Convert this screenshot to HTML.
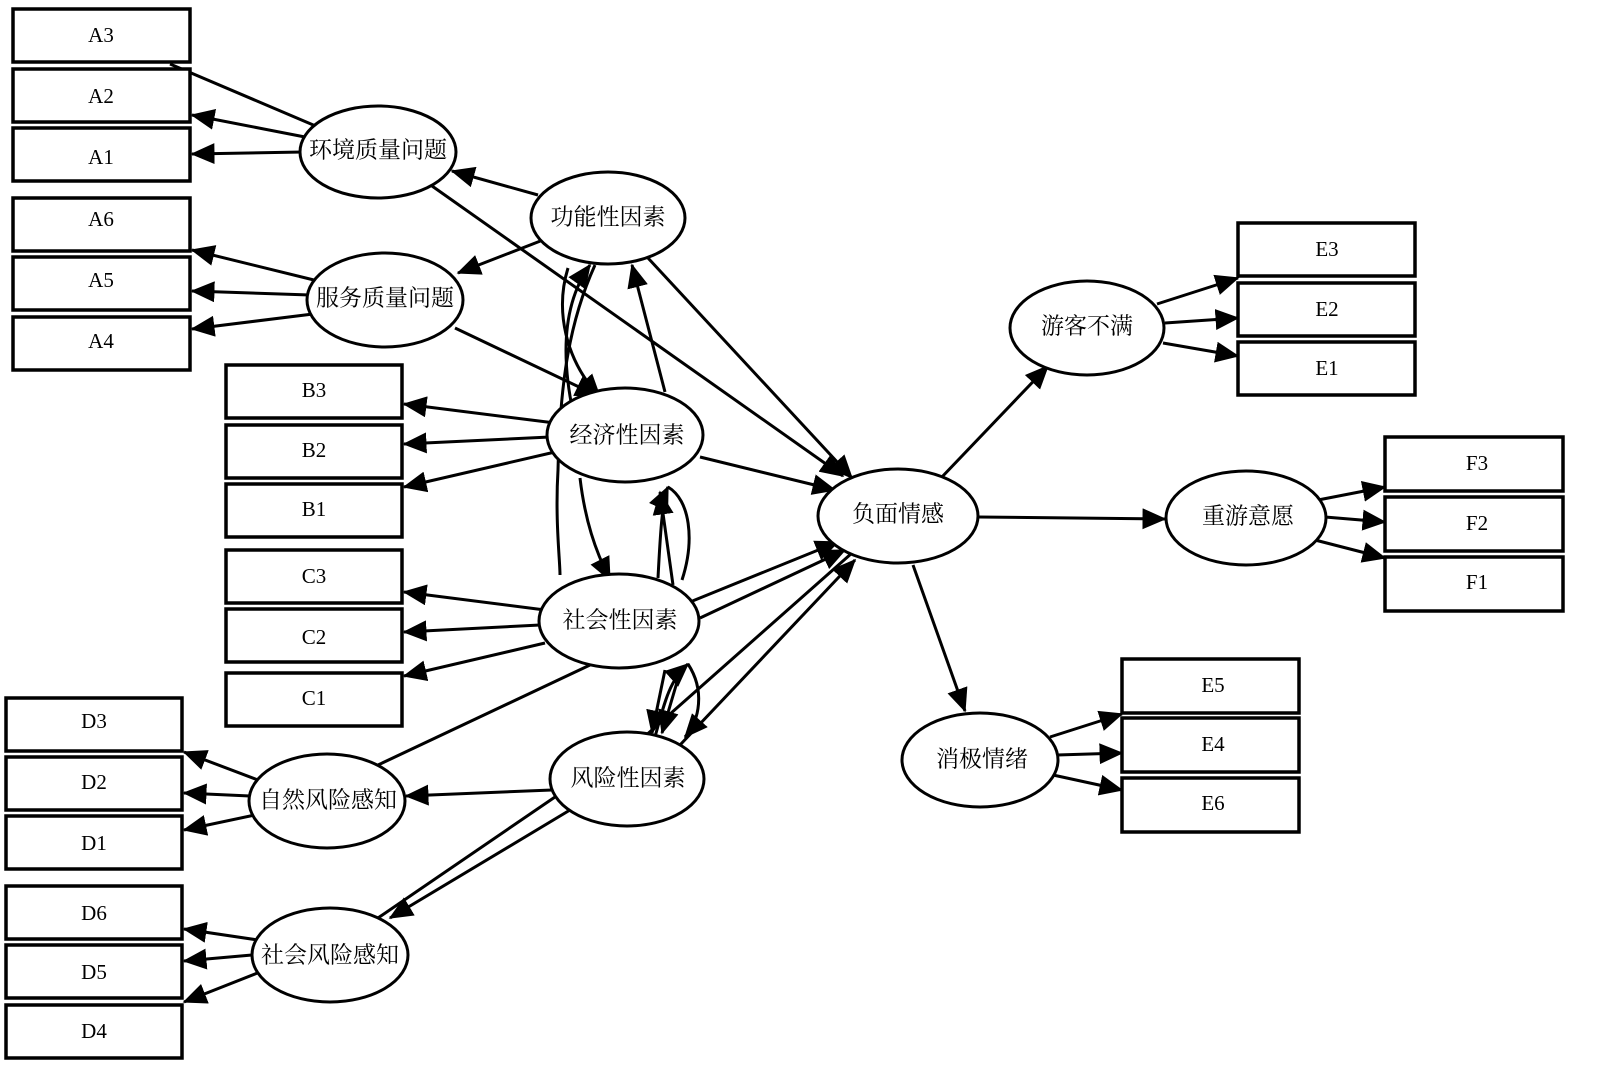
<!DOCTYPE html>
<html><head><meta charset="utf-8"><style>
html,body{margin:0;padding:0;background:#fff;}
svg{display:block;}
.b{fill:#fff;stroke:#000;stroke-width:3.5;}
.e{fill:#fff;stroke:#000;stroke-width:3;}
.l{stroke:#000;stroke-width:3;fill:none;}
.t{font-family:"Liberation Serif","Noto Serif CJK SC",serif;font-size:21px;text-anchor:middle;dominant-baseline:central;}
.c{font-family:"Liberation Serif","Noto Serif CJK SC",serif;font-size:23px;text-anchor:middle;dominant-baseline:central;}
</style></head><body>
<svg width="1600" height="1089" viewBox="0 0 1600 1089" xmlns="http://www.w3.org/2000/svg">
<defs><marker id="a" markerWidth="8" markerHeight="7" refX="7.5" refY="3.5" orient="auto" markerUnits="strokeWidth"><path d="M0,0 L8,3.5 L0,7 z" fill="#000"/></marker></defs>

<!-- edges -->
<g class="l">
<line x1="318" y1="127" x2="170" y2="64"/>
<line x1="305" y1="137" x2="192" y2="115" marker-end="url(#a)"/>
<line x1="303" y1="152" x2="192" y2="154" marker-end="url(#a)"/>
<line x1="538" y1="195" x2="452" y2="171" marker-end="url(#a)"/>
<line x1="543" y1="240" x2="458" y2="273" marker-end="url(#a)"/>
<line x1="648" y1="258" x2="852" y2="478" marker-end="url(#a)"/>
<line x1="432" y1="186" x2="843" y2="476" marker-end="url(#a)"/>
<line x1="318" y1="281" x2="192" y2="250" marker-end="url(#a)"/>
<line x1="310" y1="295" x2="192" y2="291" marker-end="url(#a)"/>
<line x1="313" y1="314" x2="192" y2="329" marker-end="url(#a)"/>
<line x1="455" y1="328" x2="598" y2="396" marker-end="url(#a)"/>
<line x1="555" y1="423" x2="404" y2="404" marker-end="url(#a)"/>
<line x1="550" y1="437" x2="404" y2="444" marker-end="url(#a)"/>
<line x1="555" y1="452" x2="404" y2="487" marker-end="url(#a)"/>
<line x1="700" y1="457" x2="835" y2="490" marker-end="url(#a)"/>
<line x1="665" y1="392" x2="632" y2="265" marker-end="url(#a)"/>
<path d="M573,412 C560,350 565,300 590,265" marker-end="url(#a)"/>
<path d="M595,265 C570,320 560,380 558,470 C555,520 560,560 560,575"/>
<path d="M568,268 C555,310 565,360 600,397" marker-end="url(#a)"/>
<path d="M580,478 C585,520 595,550 610,580" marker-end="url(#a)"/>
<line x1="673" y1="585" x2="660" y2="492" marker-end="url(#a)"/>
<path d="M658,578 C660,540 662,500 668,487" marker-end="url(#a)"/>
<path d="M682,580 C695,540 690,500 668,487"/>
<line x1="545" y1="610" x2="404" y2="592" marker-end="url(#a)"/>
<line x1="540" y1="625" x2="404" y2="632" marker-end="url(#a)"/>
<line x1="545" y1="643" x2="404" y2="676" marker-end="url(#a)"/>
<line x1="690" y1="602" x2="838" y2="542" marker-end="url(#a)"/>
<line x1="700" y1="618" x2="845" y2="550" marker-end="url(#a)"/>
<line x1="590" y1="665" x2="378" y2="765"/>
<line x1="665" y1="670" x2="652" y2="733" marker-end="url(#a)"/>
<line x1="680" y1="672" x2="662" y2="733" marker-end="url(#a)"/>
<path d="M655,737 C665,700 670,680 688,664" marker-end="url(#a)"/>
<path d="M688,664 C705,690 700,720 685,737" marker-end="url(#a)"/>
<line x1="635" y1="745" x2="852" y2="553"/>
<line x1="680" y1="745" x2="855" y2="560" marker-end="url(#a)"/>
<line x1="552" y1="790" x2="406" y2="796" marker-end="url(#a)"/>
<line x1="570" y1="810" x2="390" y2="918" marker-end="url(#a)"/>
<line x1="555" y1="797" x2="375" y2="920"/>
<line x1="258" y1="780" x2="184" y2="752" marker-end="url(#a)"/>
<line x1="250" y1="796" x2="184" y2="793" marker-end="url(#a)"/>
<line x1="255" y1="815" x2="184" y2="830" marker-end="url(#a)"/>
<line x1="258" y1="940" x2="184" y2="929" marker-end="url(#a)"/>
<line x1="252" y1="955" x2="184" y2="961" marker-end="url(#a)"/>
<line x1="260" y1="972" x2="184" y2="1002" marker-end="url(#a)"/>
<line x1="940" y1="479" x2="1048" y2="366" marker-end="url(#a)"/>
<line x1="978" y1="517" x2="1165" y2="519" marker-end="url(#a)"/>
<line x1="913" y1="565" x2="965" y2="711" marker-end="url(#a)"/>
<line x1="1157" y1="304" x2="1238" y2="278" marker-end="url(#a)"/>
<line x1="1165" y1="323" x2="1238" y2="318" marker-end="url(#a)"/>
<line x1="1163" y1="343" x2="1238" y2="356" marker-end="url(#a)"/>
<line x1="1318" y1="500" x2="1385" y2="487" marker-end="url(#a)"/>
<line x1="1325" y1="517" x2="1385" y2="522" marker-end="url(#a)"/>
<line x1="1315" y1="540" x2="1385" y2="558" marker-end="url(#a)"/>
<line x1="1050" y1="737" x2="1122" y2="714" marker-end="url(#a)"/>
<line x1="1057" y1="755" x2="1122" y2="753" marker-end="url(#a)"/>
<line x1="1053" y1="775" x2="1122" y2="790" marker-end="url(#a)"/>
</g>

<!-- boxes -->
<g>
<rect class="b" x="13" y="9" width="177" height="53"/><text class="t" x="101" y="35">A3</text>
<rect class="b" x="13" y="69" width="177" height="53"/><text class="t" x="101" y="96">A2</text>
<rect class="b" x="13" y="128" width="177" height="53"/><text class="t" x="101" y="157">A1</text>
<rect class="b" x="13" y="198" width="177" height="53"/><text class="t" x="101" y="219">A6</text>
<rect class="b" x="13" y="257" width="177" height="53"/><text class="t" x="101" y="280">A5</text>
<rect class="b" x="13" y="317" width="177" height="53"/><text class="t" x="101" y="341">A4</text>
<rect class="b" x="226" y="365" width="176" height="53"/><text class="t" x="314" y="390">B3</text>
<rect class="b" x="226" y="425" width="176" height="53"/><text class="t" x="314" y="450">B2</text>
<rect class="b" x="226" y="484" width="176" height="53"/><text class="t" x="314" y="509">B1</text>
<rect class="b" x="226" y="550" width="176" height="53"/><text class="t" x="314" y="576">C3</text>
<rect class="b" x="226" y="609" width="176" height="53"/><text class="t" x="314" y="637">C2</text>
<rect class="b" x="226" y="673" width="176" height="53"/><text class="t" x="314" y="698">C1</text>
<rect class="b" x="6" y="698" width="176" height="53"/><text class="t" x="94" y="721">D3</text>
<rect class="b" x="6" y="757" width="176" height="53"/><text class="t" x="94" y="782">D2</text>
<rect class="b" x="6" y="816" width="176" height="53"/><text class="t" x="94" y="843">D1</text>
<rect class="b" x="6" y="886" width="176" height="53"/><text class="t" x="94" y="913">D6</text>
<rect class="b" x="6" y="945" width="176" height="53"/><text class="t" x="94" y="972">D5</text>
<rect class="b" x="6" y="1005" width="176" height="53"/><text class="t" x="94" y="1031">D4</text>
<rect class="b" x="1238" y="223" width="177" height="53"/><text class="t" x="1327" y="249">E3</text>
<rect class="b" x="1238" y="283" width="177" height="53"/><text class="t" x="1327" y="309">E2</text>
<rect class="b" x="1238" y="342" width="177" height="53"/><text class="t" x="1327" y="368">E1</text>
<rect class="b" x="1385" y="437" width="178" height="54"/><text class="t" x="1477" y="463">F3</text>
<rect class="b" x="1385" y="497" width="178" height="54"/><text class="t" x="1477" y="523">F2</text>
<rect class="b" x="1385" y="557" width="178" height="54"/><text class="t" x="1477" y="582">F1</text>
<rect class="b" x="1122" y="659" width="177" height="54"/><text class="t" x="1213" y="685">E5</text>
<rect class="b" x="1122" y="718" width="177" height="54"/><text class="t" x="1213" y="744">E4</text>
<rect class="b" x="1122" y="778" width="177" height="54"/><text class="t" x="1213" y="803">E6</text>
</g>

<!-- ellipses -->
<g>
<ellipse class="e" cx="378" cy="152" rx="78" ry="46"/><text class="c" x="378" y="150">环境质量问题</text>
<ellipse class="e" cx="608" cy="218" rx="77" ry="46"/><text class="c" x="608" y="217">功能性因素</text>
<ellipse class="e" cx="385" cy="300" rx="78" ry="47"/><text class="c" x="385" y="298">服务质量问题</text>
<ellipse class="e" cx="625" cy="435" rx="78" ry="47"/><text class="c" x="627" y="435">经济性因素</text>
<ellipse class="e" cx="619" cy="621" rx="80" ry="47"/><text class="c" x="620" y="620">社会性因素</text>
<ellipse class="e" cx="627" cy="779" rx="77" ry="47"/><text class="c" x="628" y="778">风险性因素</text>
<ellipse class="e" cx="327" cy="801" rx="78" ry="47"/><text class="c" x="328" y="800">自然风险感知</text>
<ellipse class="e" cx="330" cy="955" rx="78" ry="47"/><text class="c" x="330" y="955">社会风险感知</text>
<ellipse class="e" cx="898" cy="516" rx="80" ry="47"/><text class="c" x="898" y="514">负面情感</text>
<ellipse class="e" cx="1087" cy="328" rx="77" ry="47"/><text class="c" x="1087" y="326">游客不满</text>
<ellipse class="e" cx="1246" cy="518" rx="80" ry="47"/><text class="c" x="1248" y="516">重游意愿</text>
<ellipse class="e" cx="980" cy="760" rx="78" ry="47"/><text class="c" x="982" y="759">消极情绪</text>
</g>
</svg>
</body></html>
